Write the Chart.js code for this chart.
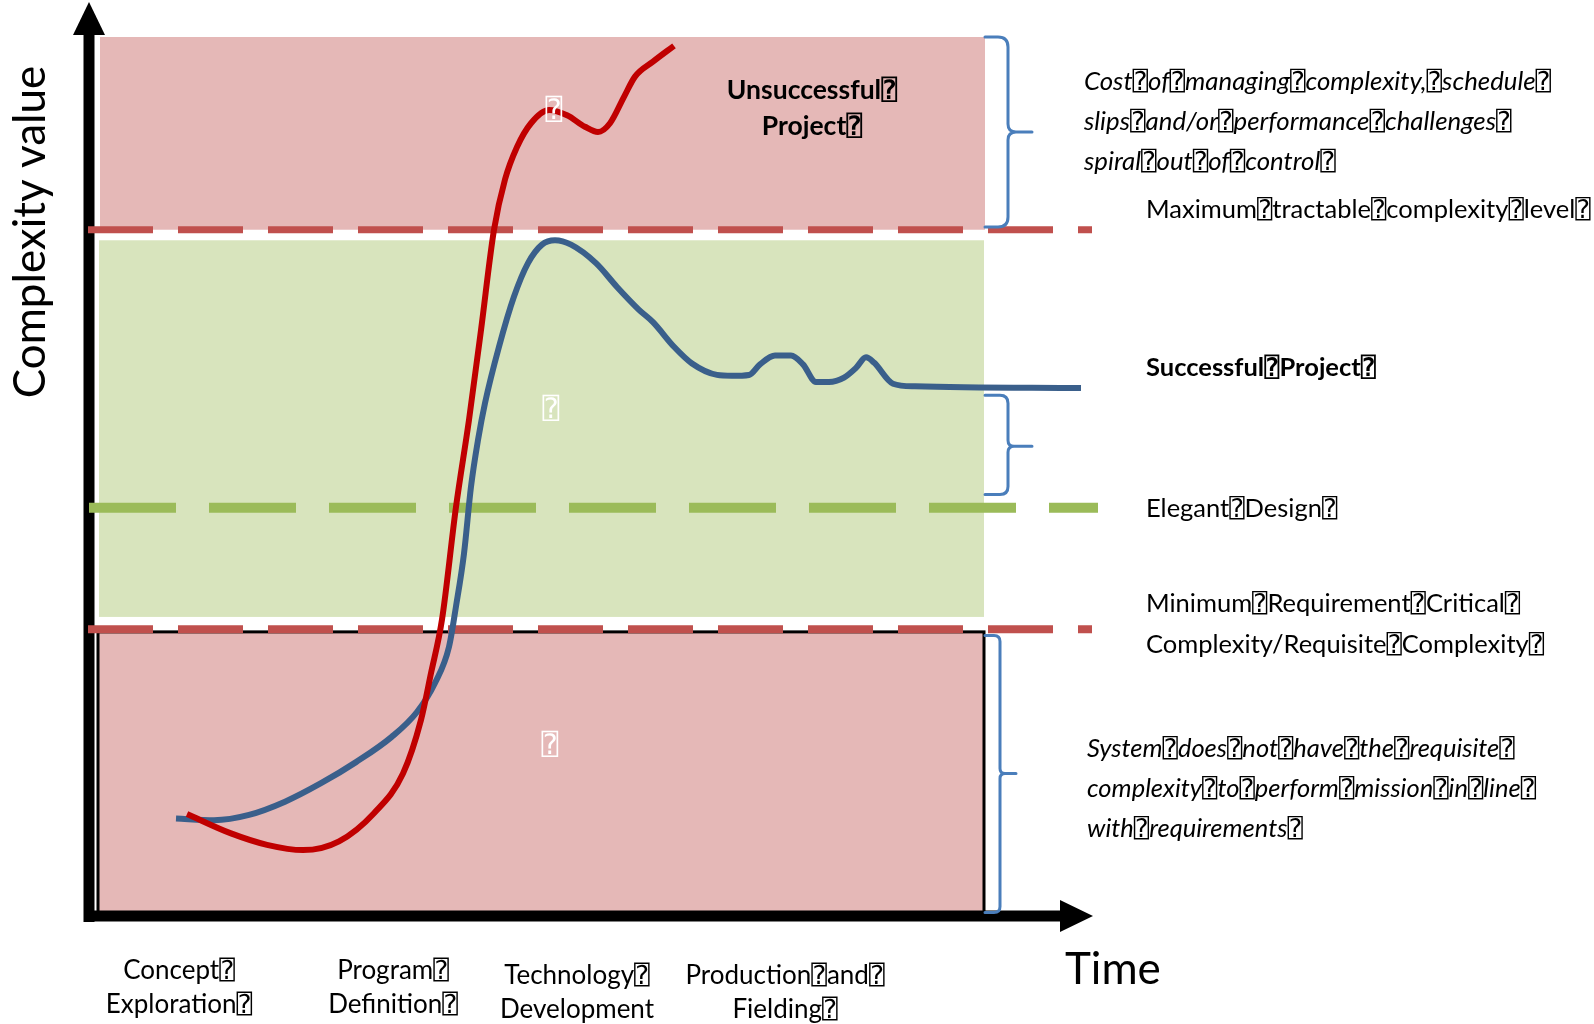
<!DOCTYPE html>
<html>
<head>
<meta charset="utf-8">
<script src="https://cdn.jsdelivr.net/npm/chart.js@4.4.1/dist/chart.umd.min.js"></script>
<style>
  html, body { margin: 0; padding: 0; background: #ffffff; }
  #wrap { width: 1594px; height: 1024px; position: relative; }
</style>
</head>
<body>
<div id="wrap"><canvas id="chart" width="1594" height="1024"></canvas></div>
<script>
// Glyph used in the diagram's labels between words
const Q = '\u2370';

// Trajectory of a successful project: time vs. complexity
const successfulTime = [8.7, 12.5, 16.0, 19.6, 23.2, 26.7, 30.3, 32.8, 34.6, 36.0, 36.7, 37.5, 38.2, 38.9, 39.6, 41.0, 42.5, 43.9, 45.3, 46.6, 48.2, 50.7, 52.8, 55.0, 56.4, 58.5, 60.3, 62.8, 64.3, 66.0, 67.1, 68.6, 70.2, 71.4, 72.7, 74.0, 75.5, 76.7, 77.7, 78.5, 80.4, 82.6, 99.2];
const successfulComplexity = [11.2, 11.0, 11.6, 13.1, 15.2, 17.6, 20.5, 23.3, 26.6, 30.7, 35.3, 41.3, 48.9, 54.2, 58.4, 64.8, 70.5, 74.3, 76.4, 76.9, 76.4, 74.3, 71.6, 69.0, 67.6, 64.8, 62.9, 61.6, 61.5, 61.6, 62.8, 63.8, 63.8, 62.8, 60.8, 60.8, 61.3, 62.4, 63.6, 63.0, 60.6, 60.3, 60.1];

// Trajectory of an unsuccessful project
const unsuccessfulTime = [9.8, 14.2, 17.8, 21.4, 25.0, 28.5, 31.4, 33.2, 34.2, 35.3, 36.7, 38.0, 39.2, 40.5, 41.6, 42.8, 44.2, 46.0, 47.8, 49.6, 50.9, 52.1, 53.5, 54.6, 56.4, 58.5];
const unsuccessfulComplexity = [11.7, 9.5, 8.2, 7.6, 8.6, 11.8, 16.3, 22.4, 27.7, 33.8, 46.6, 56.5, 66.7, 78.1, 83.8, 87.5, 90.2, 91.7, 91.1, 89.8, 89.2, 90.2, 93.2, 95.5, 97.2, 99.0];

// Reference complexity levels
const maxTractableLevel = 78.1;
const elegantDesignLevel = 46.5;
const minRequisiteLevel = 32.7;

// Complexity zones: [from, to]
const unsuccessfulZone = [78.1, 100];
const successfulZone = [34.1, 76.9];
const insufficientZone = [0.2, 32.4];

// Life-cycle phases along the time axis
const phaseCenters = [9.0, 30.4, 48.8, 69.6];
const phaseLabels = [
  ['Concept' + Q, 'Exploration' + Q],
  ['Program' + Q, 'Definition' + Q],
  ['Technology' + Q, 'Development'],
  ['Production' + Q + 'and' + Q, 'Fielding' + Q]
];

const yTitle = 'Complexity value';
const xTitle = 'Time';

const costNote = ['Cost' + Q + 'of' + Q + 'managing' + Q + 'complexity,' + Q + 'schedule' + Q,
                  'slips' + Q + 'and/or' + Q + 'performance' + Q + 'challenges' + Q,
                  'spiral' + Q + 'out' + Q + 'of' + Q + 'control' + Q];
const maxLabel = 'Maximum' + Q + 'tractable' + Q + 'complexity' + Q + 'level' + Q;
const successLabel = 'Successful' + Q + 'Project' + Q;
const elegantLabel = 'Elegant' + Q + 'Design' + Q;
const minLabel = ['Minimum' + Q + 'Requirement' + Q + 'Critical' + Q,
                  'Complexity/Requisite' + Q + 'Complexity' + Q];
const lackNote = ['System' + Q + 'does' + Q + 'not' + Q + 'have' + Q + 'the' + Q + 'requisite' + Q,
                  'complexity' + Q + 'to' + Q + 'perform' + Q + 'mission' + Q + 'in' + Q + 'line' + Q,
                  'with' + Q + 'requirements' + Q];
const failLabel = ['Unsuccessful' + Q, 'Project' + Q];

const FONT = "Lato, 'DejaVu Sans Mono', 'DejaVu Sans', sans-serif";
const toPoints = (xs, ys) => xs.map((x, i) => ({ x: x, y: ys[i] }));
const levelLine = (level, x0, x1) => [{ x: x0, y: level }, { x: x1, y: level }];

function text(ctx, str, x, y, font, align, color) {
  ctx.save();
  ctx.font = font;
  ctx.textAlign = align || 'left';
  ctx.textBaseline = 'middle';
  ctx.fillStyle = color || '#000000';
  ctx.fillText(str, x, y);
  ctx.restore();
}

function brace(ctx, xl, xv, xt, top, bottom, mid, r, r2) {
  ctx.beginPath();
  ctx.moveTo(xl, top);
  ctx.lineTo(xv - r, top);
  ctx.quadraticCurveTo(xv, top, xv, top + r);
  ctx.lineTo(xv, mid - r2);
  ctx.quadraticCurveTo(xv, mid, xv + r2, mid);
  ctx.lineTo(xt, mid);
  ctx.moveTo(xv + r2, mid);
  ctx.quadraticCurveTo(xv, mid, xv, mid + r2);
  ctx.lineTo(xv, bottom - r);
  ctx.quadraticCurveTo(xv, bottom, xv - r, bottom);
  ctx.lineTo(xl, bottom);
  ctx.stroke();
}

const diagram = {
  id: 'diagram',
  beforeDatasetsDraw(chart) {
    const { ctx } = chart;
    const X = v => chart.scales.x.getPixelForValue(v);
    const Y = v => chart.scales.y.getPixelForValue(v);
    ctx.save();
    // zones
    ctx.fillStyle = '#e5b8b7';
    ctx.fillRect(X(1.1), Y(unsuccessfulZone[1]), X(89.6) - X(1.1), Y(unsuccessfulZone[0]) - Y(unsuccessfulZone[1]));
    ctx.fillStyle = '#d8e4bd';
    ctx.fillRect(X(1.0), Y(successfulZone[1]), X(89.5) - X(1.0), Y(successfulZone[0]) - Y(successfulZone[1]));
    ctx.fillStyle = '#e5b8b7';
    const bl = X(0.9), br = X(89.5), bt = Y(insufficientZone[1]), bb = Y(insufficientZone[0]);
    ctx.fillRect(bl, bt, br - bl, bb - bt);
    ctx.strokeStyle = '#000000';
    ctx.lineWidth = 3;
    ctx.strokeRect(bl, bt, br - bl, bb - bt);

    // axes with arrow heads
    ctx.fillStyle = '#000000';
    const ax = X(0);
    ctx.fillRect(ax - 5.5, 30, 11, 892);
    ctx.beginPath();
    ctx.moveTo(ax, 2); ctx.lineTo(ax - 16, 35); ctx.lineTo(ax + 16, 35); ctx.closePath(); ctx.fill();
    const ay = 916;
    ctx.fillRect(ax - 5, ay - 5.5, X(97.3) - ax + 5, 11);
    ctx.beginPath();
    ctx.moveTo(X(100.4), ay); ctx.lineTo(X(97.1), ay - 16); ctx.lineTo(X(97.1), ay + 16); ctx.closePath(); ctx.fill();
    ctx.restore();
  },
  afterDatasetsDraw(chart) {
    const { ctx } = chart;
    const X = v => chart.scales.x.getPixelForValue(v);
    const Y = v => chart.scales.y.getPixelForValue(v);

    // braces
    ctx.save();
    ctx.strokeStyle = '#4a7ebb';
    ctx.lineWidth = 3;
    ctx.lineCap = 'round';
    brace(ctx, X(89.6), X(91.9), X(94.3), Y(100), Y(78.4), Y(89.2), 10, 8);
    brace(ctx, X(89.6), X(91.9), X(94.3), Y(59.3), Y(48.0), Y(53.5), 8, 6);
    brace(ctx, X(89.6), X(91.1), X(92.7), Y(32.0), Y(0.5), Y(16.3), 6, 5);
    ctx.restore();

    // axis titles
    ctx.save();
    ctx.translate(31, 232);
    ctx.rotate(-Math.PI / 2);
    text(ctx, yTitle, 0, 0, '44px ' + FONT, 'center');
    ctx.restore();
    text(ctx, xTitle, 1065, 970, '44px ' + FONT, 'left');

    // phase labels
    phaseCenters.forEach((c, i) => {
      const dy = i < 2 ? 1 : 6;
      text(ctx, phaseLabels[i][0], X(c), 970 + dy, '26px ' + FONT, 'center');
      text(ctx, phaseLabels[i][1], X(c), 1004 + dy, '26px ' + FONT, 'center');
    });

    // zone annotations
    costNote.forEach((s, i) => text(ctx, s, 1084, 82 + i * 40, 'italic 25.8px ' + FONT, 'left'));
    text(ctx, maxLabel, 1146, 210, '25.5px ' + FONT, 'left');
    text(ctx, successLabel, 1146, 368, 'bold 25.5px ' + FONT, 'left');
    text(ctx, elegantLabel, 1146, 509, '25.5px ' + FONT, 'left');
    minLabel.forEach((s, i) => text(ctx, s, 1146, 604 + i * 41, '25.5px ' + FONT, 'left'));
    lackNote.forEach((s, i) => text(ctx, s, 1087, 749 + i * 40, 'italic 25.5px ' + FONT, 'left'));
    failLabel.forEach((s, i) => text(ctx, s, 812, 90 + i * 36, 'bold 26.5px ' + FONT, 'center'));

    // zone markers
    text(ctx, Q, 554, 110, '28px ' + FONT, 'center', '#ffffff');
    text(ctx, Q, 551, 409, '28px ' + FONT, 'center', '#ffffff');
    text(ctx, Q, 550, 745, '28px ' + FONT, 'center', '#ffffff');
  }
};

new Chart(document.getElementById('chart').getContext('2d'), {
  type: 'scatter',
  data: {
    datasets: [
      {
        label: 'Unsuccessful Project',
        data: toPoints(unsuccessfulTime, unsuccessfulComplexity),
        showLine: true, pointRadius: 0, borderColor: '#c00000', borderWidth: 6,
        cubicInterpolationMode: 'monotone', borderCapStyle: 'butt', clip: false, order: 0
      },
      {
        label: 'Successful Project',
        data: toPoints(successfulTime, successfulComplexity),
        showLine: true, pointRadius: 0, borderColor: '#3a5f8b', borderWidth: 6,
        cubicInterpolationMode: 'monotone', borderCapStyle: 'butt', clip: false, order: 1
      },
      {
        label: 'Maximum tractable complexity level',
        data: levelLine(maxTractableLevel, -0.1, 100.3),
        showLine: true, pointRadius: 0, borderColor: '#c0504d', borderWidth: 7,
        borderDash: [65, 25], borderCapStyle: 'butt', clip: false, order: 2
      },
      {
        label: 'Minimum requisite complexity',
        data: levelLine(minRequisiteLevel, -0.1, 100.3),
        showLine: true, pointRadius: 0, borderColor: '#c0504d', borderWidth: 8,
        borderDash: [65, 25], borderCapStyle: 'butt', clip: false, order: 3
      },
      {
        label: 'Elegant Design',
        data: levelLine(elegantDesignLevel, 0, 100.9),
        showLine: true, pointRadius: 0, borderColor: '#9bbb59', borderWidth: 10,
        borderDash: [87, 33], borderCapStyle: 'butt', clip: false, order: 4
      }
    ]
  },
  options: {
    responsive: false,
    animation: false,
    devicePixelRatio: 1,
    events: [],
    layout: { padding: { left: 89, right: 405, top: 37, bottom: 107 } },
    scales: {
      x: { type: 'linear', min: 0, max: 110, display: false },
      y: { type: 'linear', min: 0, max: 100, display: false }
    },
    plugins: { legend: { display: false }, tooltip: { enabled: false }, title: { display: false } }
  },
  plugins: [diagram]
});
</script>
</body>
</html>
